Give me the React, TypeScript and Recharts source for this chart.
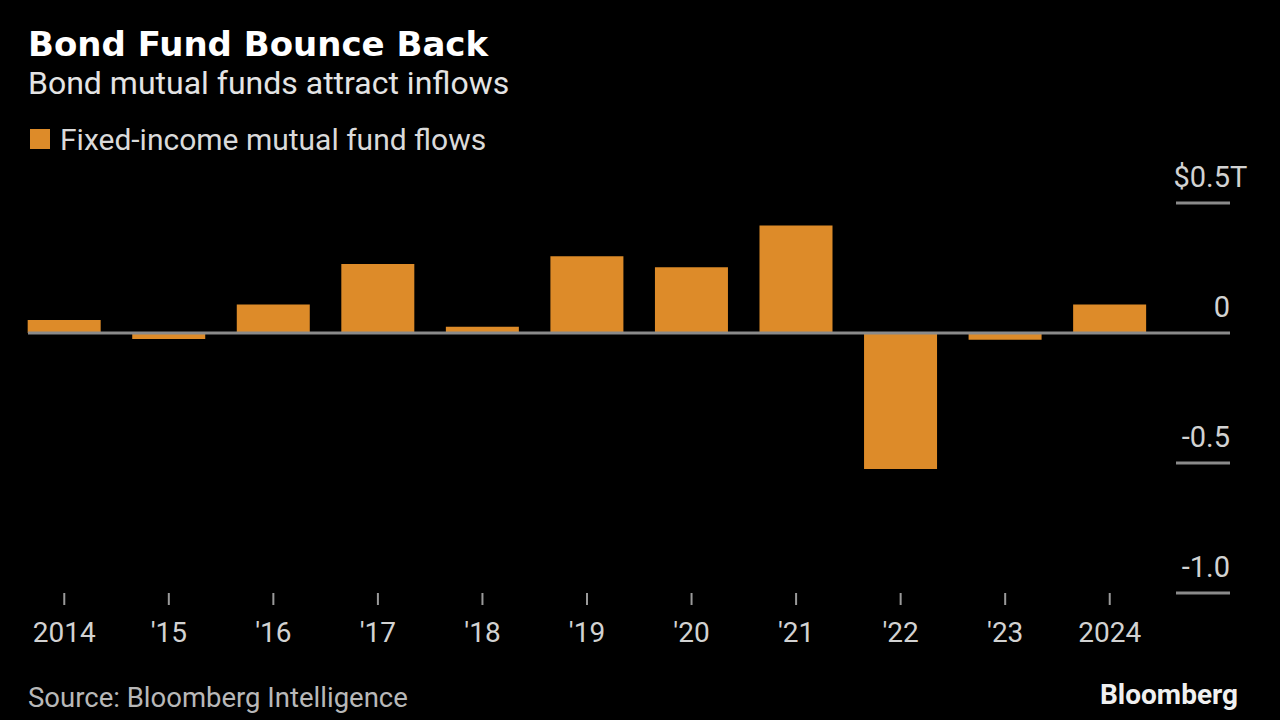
import { BarChart, Bar, XAxis, YAxis } from "recharts";

// fixed-income mutual fund flows, $ trillions
const years = ["2014", "'15", "'16", "'17", "'18", "'19", "'20", "'21", "'22", "'23", "2024"];
const flows = [0.05, -0.023, 0.11, 0.265, 0.024, 0.295, 0.253, 0.413, -0.523, -0.026, 0.11];
const yTicks = [-1, -0.5, 0, 0.5];
const yTickLabels = ["-1.0", "-0.5", "0", "$0.5"];

const data = years.map((year, i) => ({ year, flow: flows[i] }));

const FONT = "Roboto, 'Noto Sans', sans-serif";
const TITLE_FONT = "'DejaVu Sans', Roboto, sans-serif";
const ORANGE = "#DD8B29";

const CHART_W = 1280;
const CHART_H = 720;
const MARGIN = { top: 203, right: 50, bottom: 67, left: 12 };
const AXIS_W = 68;
const PLOT_W = CHART_W - MARGIN.left - MARGIN.right - AXIS_W;
// the zero rule starts at the left edge of the first bar
const RULE_INSET = 16;

type TickProps = {
  x?: number;
  y?: number;
  payload?: { value: number };
};

// right-hand value labels sit above a short grey rule; the 0 rule runs across the plot
const YTick = ({ x = 0, y = 0, payload }: TickProps) => {
  const v = payload ? payload.value : 0;
  const label = yTickLabels[yTicks.indexOf(v)];
  const right = x + AXIS_W;
  return (
    <g>
      <line
        x1={v === 0 ? x - PLOT_W + RULE_INSET : x + 14}
        x2={right}
        y1={y}
        y2={y}
        stroke="#8a8a8a"
        strokeWidth={3}
      />
      <text x={right} y={y - 16} textAnchor="end" fill="#d2d2d2" fontSize={29} fontFamily={FONT}>
        {label}
      </text>
      {v === 0.5 && (
        <text x={right} y={y - 16} fill="#d2d2d2" fontSize={29} fontFamily={FONT}>
          T
        </text>
      )}
    </g>
  );
};

const App = () => {
  return (
    <div
      style={{
        position: "absolute",
        left: 0,
        top: 0,
        width: CHART_W,
        height: CHART_H,
        background: "#000",
        overflow: "hidden",
      }}
    >
      <BarChart width={CHART_W} height={CHART_H} data={data} margin={MARGIN} barCategoryGap="15%">
        <XAxis
          dataKey="year"
          axisLine={false}
          tickSize={12}
          tickMargin={17}
          tickLine={{ stroke: "#9a9a9a", strokeWidth: 2 }}
          tick={{ fill: "#d2d2d2", fontSize: 28, fontFamily: FONT }}
          height={60}
          interval={0}
        />
        <YAxis
          orientation="right"
          domain={[-1, 0.5]}
          ticks={yTicks}
          width={AXIS_W}
          axisLine={false}
          tickLine={false}
          tickSize={0}
          tickMargin={0}
          tick={<YTick />}
        />
        <Bar dataKey="flow" fill={ORANGE} isAnimationActive={false} />
      </BarChart>

      {/* Header and footer text */}
      <svg
        width={CHART_W}
        height={CHART_H}
        style={{ position: "absolute", left: 0, top: 0, pointerEvents: "none" }}
      >
        <text x={28} y={56} fill="#fff" fontSize={34} fontWeight={700} fontFamily={TITLE_FONT}>
          Bond Fund Bounce Back
        </text>
        <text x={28} y={94} fill="#e4e4e4" fontSize={32} fontFamily={FONT}>
          Bond mutual funds attract inflows
        </text>
        <rect x={30} y={129} width={20} height={20} fill={ORANGE} />
        <text x={60} y={150} fill="#dadada" fontSize={30} fontFamily={FONT}>
          Fixed-income mutual fund flows
        </text>
        <text x={28} y={707} fill="#b8b8b8" fontSize={27.5} fontFamily={FONT}>
          Source: Bloomberg Intelligence
        </text>
        <text
          x={1238}
          y={704}
          textAnchor="end"
          fill="#f0f0f0"
          fontSize={28}
          fontWeight={700}
          fontFamily={FONT}
        >
          Bloomberg
        </text>
      </svg>
    </div>
  );
};

export default App;
